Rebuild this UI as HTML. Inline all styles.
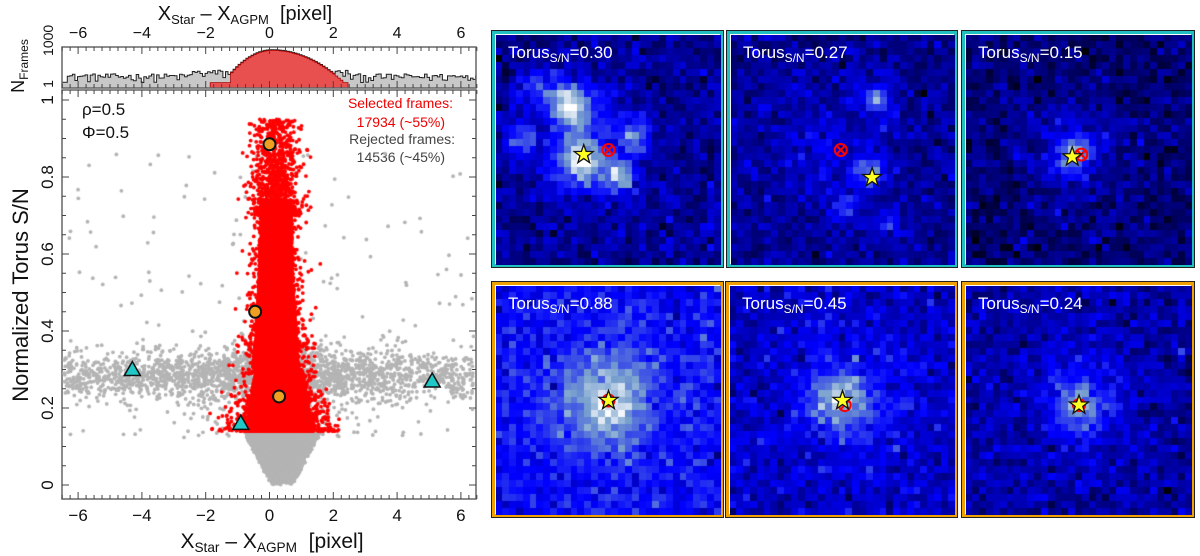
<!DOCTYPE html>
<html><head><meta charset="utf-8">
<style>
body{margin:0;background:#fff;width:1200px;height:556px;overflow:hidden;position:relative;font-family:"Liberation Sans",sans-serif}
svg{position:absolute;left:0;top:0}
.panel{position:absolute;box-sizing:border-box;border:1px solid #222;}
.panel .inner{position:absolute;left:0;top:0;right:0;bottom:0;border:3px solid;box-sizing:border-box;}
.panel canvas{position:absolute;left:3px;top:3px}
.lbl{position:absolute;left:16px;top:12px;color:#fff;font-size:17px;}
.lbl sub{font-size:12px;vertical-align:-4px}
</style></head><body>
<svg id="chart" width="1200" height="556"></svg>
<canvas id="sc" width="414" height="409" style="position:absolute;left:62px;top:90px"></canvas>
<svg id="over" width="1200" height="556"></svg>
<div id="panels"></div>
<script>
// ---- data ----
const xTicks=[-6,-4,-2,0,2,4,6];
const yTicks=[0,0.2,0.4,0.6,0.8];
const circleX=[0,-0.45,0.3];
const circleY=[0.885,0.45,0.23];
const triX=[-4.3,-0.9,5.1];
const triY=[0.30,0.16,0.27];
const threshold=0.14;
const panelLabels=["0.30","0.27","0.15","0.88","0.45","0.24"];

const NS="http://www.w3.org/2000/svg";
const L=62,R=476,T=90,B=499;
const sx=v=>269.5+v*31.9, sy=v=>485-v*385;
function el(p,tag,a){const e=document.createElementNS(NS,tag);for(const k in a)e.setAttribute(k,a[k]);p.appendChild(e);return e;}
const svg=document.getElementById('chart'), ov=document.getElementById('over');

const HT=47,HB=88;
function prng(s){return function(){s=(s*1664525+1013904223)>>>0;return s/4294967296;}}
const rnd=prng(12345);
const hy=v=>HB-2-Math.log10(Math.max(v,1))/3.3*(HB-HT-4);
let gpts=[],rpts=[];
for(let x=-6.5;x<=6.5;x+=0.08){
  const s=x<0.05?0.42:0.62;
  const core=(x>-1.25&&x<2.25)?1500*Math.exp(-Math.pow((x-0.05)/s,2)/2):0;
  const g=Math.max(2+rnd()*(Math.abs(x)<2.5?25:10),core*1.15);
  const r=core>3?core:((x>-1.9&&x<2.4)?2:0);
  gpts.push([sx(x),hy(g)]);rpts.push([sx(x),r>0?hy(r):HB]);
}
let gd=`M${L},${HB}`;gpts.forEach(p=>{gd+=`H${p[0].toFixed(1)}V${p[1].toFixed(1)}`});gd+=`H${R}V${HB}Z`;
let rd=`M${L},${HB}`;rpts.forEach(p=>{rd+=`H${p[0].toFixed(1)}V${p[1].toFixed(1)}`});rd+=`H${R}V${HB}Z`;
el(svg,'path',{d:gd,fill:'#c8c8c8',stroke:'#222','stroke-width':1,});
el(svg,'path',{d:rd,fill:'#e85050',stroke:'#a00','stroke-width':0.8,});
el(svg,'rect',{x:L,y:HT,width:R-L,height:HB-HT,fill:'none',stroke:'#666','stroke-width':1.5,});
el(svg,'rect',{x:L,y:T,width:R-L,height:B-T,fill:'none',stroke:'#666','stroke-width':1.5,});
for(let v=-6.5;v<=6.5;v+=0.25){const x=sx(v);const maj=Math.abs(v-Math.round(v))<1e-6&&Math.round(v)%2==0;const len=maj?7:4;
 [[HT,1],[HB,-1],[T,1],[B,-1]].forEach(([y,d])=>el(svg,'line',{x1:x,x2:x,y1:y,y2:y+d*len,stroke:'#444','stroke-width':1}));}
for(let v=0;v<=1.01;v+=0.05){const y=sy(v);if(y<T)continue;const len=(Math.round(v*100)%20==0)?7:4;
 el(svg,'line',{x1:L,x2:L+len,y1:y,y2:y,stroke:'#444'});el(svg,'line',{x1:R,x2:R-len,y1:y,y2:y,stroke:'#444'});}
xTicks.forEach(v=>{
 const t1=el(svg,'text',{x:sx(v),y:38,'font-size':16,'text-anchor':'middle',fill:'#111',});t1.textContent=(v<0?'\u2212':'')+Math.abs(v);
 const t2=el(svg,'text',{x:sx(v),y:521,'font-size':17,'text-anchor':'middle',fill:'#111',});t2.textContent=(v<0?'\u2212':'')+Math.abs(v);
});
yTicks.concat([1]).forEach(v=>{const t=el(svg,'text',{x:0,y:0,'font-size':17,'text-anchor':'middle',fill:'#111',transform:`translate(53,${sy(v)}) rotate(-90)`,});t.textContent=v==1?'1':v;});
[[1,'1'],[1000,'1000']].forEach(([v,s])=>{const t=el(svg,'text',{x:0,y:0,'font-size':14,'text-anchor':'middle',fill:'#111',transform:`translate(53,${hy(v)-(v==1?2:12)}) rotate(-90)`,});t.textContent=s;});
function axTitle(x,y,fs){const t=el(svg,'text',{x,y,'font-size':fs,'text-anchor':'middle',fill:'#111',});
 t.innerHTML=`X<tspan font-size="${fs*0.65}" dy="4">Star</tspan><tspan dy="-4"> \u2013 X</tspan><tspan font-size="${fs*0.65}" dy="4">AGPM</tspan><tspan dy="-4" xml:space="preserve">  [pixel]</tspan>`;}
axTitle(245,20,20);axTitle(272,548,21);
const yt=el(svg,'text',{x:0,y:0,'font-size':22,'text-anchor':'middle',fill:'#111',transform:'translate(28,295) rotate(-90)',});yt.textContent='Normalized Torus S/N';
const ht=el(svg,'text',{x:0,y:0,'font-size':18,'text-anchor':'middle',fill:'#111',transform:'translate(24,66) rotate(-90)',});ht.innerHTML='N<tspan font-size="12" dy="4">Frames</tspan>';
function txt(x,y,s,fs,c,anc,name){const t=el(svg,'text',{x,y,'font-size':fs,fill:c,'text-anchor':anc||'start',});t.textContent=s;}
txt(82,115,'ρ=0.5',17,'#111','start','rho-label');txt(82,138,'Φ=0.5',17,'#111','start','phi-label');
txt(453,108,'Selected frames:',14,'#e00','end','selected-label');txt(445,127,'17934 (~55%)',14,'#e00','end','selected-count');
txt(455,144,'Rejected frames:',14,'#444','end','rejected-label');txt(445,162,'14536 (~45%)',14,'#444','end','rejected-count');

const c=document.getElementById('sc').getContext('2d');
const gauss=()=>{let u=rnd(),v=rnd();return Math.sqrt(-2*Math.log(u+1e-9))*Math.cos(2*Math.PI*v);};
function dot(x,y,col,r){const px=sx(x)-L,py=sy(y)-T;if(px<2||px>412||py<2||py>407)return;c.fillStyle=col;c.beginPath();c.arc(px,py,r||1.9,0,7);c.fill();}
const GR='#b4b4b4';
for(let i=0;i<1500;i++){dot(-6.5+13*rnd(),0.285+0.032*gauss(),GR);}
for(let i=0;i<700;i++){dot(0.3+2.2*gauss(),0.28+0.04*gauss(),GR);}
for(let i=0;i<160;i++){dot(-6.5+13*rnd(),0.12+0.75*rnd(),GR);}
for(let i=0;i<300;i++){dot(0.3+1.6*gauss(),0.12+0.25*rnd(),GR);}
for(let i=0;i<9000;i++){const y=threshold*Math.sqrt(rnd());const hw=0.35+y/threshold*0.9;dot(0.4+hw*(2*rnd()-1)*(0.7+0.3*rnd()),y,GR);}
function hwRed(y){return y<0.3?1.25-(y-0.14)*2.5:(y<0.5?0.85-(y-0.3)*1.0:0.65-(y-0.5)*0.4);}
for(let i=0;i<15000;i++){const y=threshold+Math.pow(rnd(),2.0)*0.6;const hw=hwRed(y);const cx=y<0.3?0.3:0.2;
 const u=rnd()<0.8?(2*rnd()-1)*0.85:gauss()*0.6;dot(cx+hw*u,y,'#ff0000');}
for(let i=0;i<900;i++){const y=0.7+0.25*Math.pow(rnd(),1.3);dot(0.18+0.35*gauss(),y,'#ff0000');}
circleX.forEach((x,i)=>{const e=el(ov,'circle',{cx:sx(x),cy:sy(circleY[i]),r:6,fill:'#f0a020',stroke:'#111','stroke-width':2});});
triX.forEach((x,i)=>{const X=sx(x),Y=sy(triY[i]);const e=el(ov,'polygon',{points:`${X},${Y-8} ${X-8},${Y+6} ${X+8},${Y+6}`,fill:'#20c8c8',stroke:'#111','stroke-width':1.5});});

const P=[
 {x:491,y:30,w:233,h:238,col:'#20c0c0',bg:0.26,blobs:[[.35,.33,.07,.45],[.38,.55,.07,.6],[.3,.28,.05,.3],[.55,.62,.05,.5],[.62,.45,.045,.4],[.12,.45,.045,.3],[.18,.22,.05,.3],[.4,.45,.2,.15]],star:[.39,.52],cross:[.5,.5]},
 {x:726,y:30,w:232,h:238,col:'#20c0c0',bg:0.24,blobs:[[.65,.28,.04,.4],[.62,.6,.05,.38],[.5,.75,.035,.35],[.7,.82,.04,.3],[.45,.5,.25,.12]],star:[.63,.62],cross:[.49,.5]},
 {x:961,y:30,w:234,h:238,col:'#20c0c0',bg:0.2,blobs:[[.48,.52,.05,.45],[.48,.5,.16,.18]],star:[.47,.53],cross:[.51,.52]},
 {x:491,y:281,w:233,h:237,col:'#f0a000',bg:0.44,blobs:[[.5,.5,.11,.36],[.5,.5,.25,.15]],star:[.5,.5],cross:[.5,.5]},
 {x:725,y:281,w:233,h:237,col:'#f0a000',bg:0.34,blobs:[[.5,.5,.085,.38],[.5,.5,.2,.15]],star:[.5,.5],cross:[.51,.52]},
 {x:961,y:281,w:234,h:237,col:'#f0a000',bg:0.28,blobs:[[.5,.52,.08,.34],[.5,.5,.2,.13]],star:[.5,.52],cross:[.5,.52]}
];
function cmap(v){v=Math.max(0,Math.min(1,v));
 if(v<0.45){const t=v/0.45;return [0,0,Math.round(255*t)];}
 if(v<0.75){const t=(v-0.45)/0.3;return [Math.round(120*t),Math.round(160*t),Math.round(255-50*t)];}
 const t=(v-0.75)/0.25;return [Math.round(120+135*t),Math.round(160+95*t),Math.round(205+50*t)];}
const cont=document.getElementById('panels');
P.forEach((p,i)=>{
 const d=document.createElement('div');d.className='panel';
 
 
 d.style.cssText+=`left:${p.x}px;top:${p.y}px;width:${p.w}px;height:${p.h}px;`;
 const inn=document.createElement('div');inn.className='inner';inn.style.borderColor=p.col;d.appendChild(inn);
 const W=p.w-8,H=p.h-8;const cv=document.createElement('canvas');cv.width=W;cv.height=H;cv.style.left='4px';cv.style.top='4px';d.appendChild(cv);
 const g=cv.getContext('2d');const N=33,cw=W/N,ch=H/N;
 for(let a=0;a<N;a++)for(let b=0;b<N;b++){const u=(a+.5)/N,v=(b+.5)/N;let val=p.bg+0.07*gauss();
  p.blobs.forEach(bl=>{const r2=((u-bl[0])**2+(v-bl[1])**2)/(2*bl[2]*bl[2]);val+=bl[3]*Math.exp(-r2);});
  const c3=cmap(val);g.fillStyle=`rgb(${c3[0]},${c3[1]},${c3[2]})`;g.fillRect(Math.floor(a*cw),Math.floor(b*ch),Math.ceil(cw)+1,Math.ceil(ch)+1);}
 const lb=document.createElement('div');lb.className='lbl';lb.innerHTML='Torus<sub>S/N</sub>='+panelLabels[i];
 
 d.appendChild(lb);
 const s=document.createElementNS(NS,'svg');s.setAttribute('width',p.w);s.setAttribute('height',p.h);s.style.position='absolute';
 const cx=4+p.cross[0]*W,cy=4+p.cross[1]*H;
 el(s,'circle',{cx,cy,r:6,fill:'none',stroke:'#f00','stroke-width':2,});
 el(s,'path',{d:`M${cx-4},${cy-4}L${cx+4},${cy+4}M${cx+4},${cy-4}L${cx-4},${cy+4}`,stroke:'#f00','stroke-width':2});
 const X=4+p.star[0]*W,Y=4+p.star[1]*H;let pts='';for(let k=0;k<10;k++){const r=k%2?4:10,an=-Math.PI/2+k*Math.PI/5;pts+=`${X+r*Math.cos(an)},${Y+r*Math.sin(an)} `;}
 el(s,'polygon',{points:pts,fill:'#ffff20',stroke:'#111','stroke-width':1.3,});
 d.appendChild(s);cont.appendChild(d);
});
</script>
</body></html>
